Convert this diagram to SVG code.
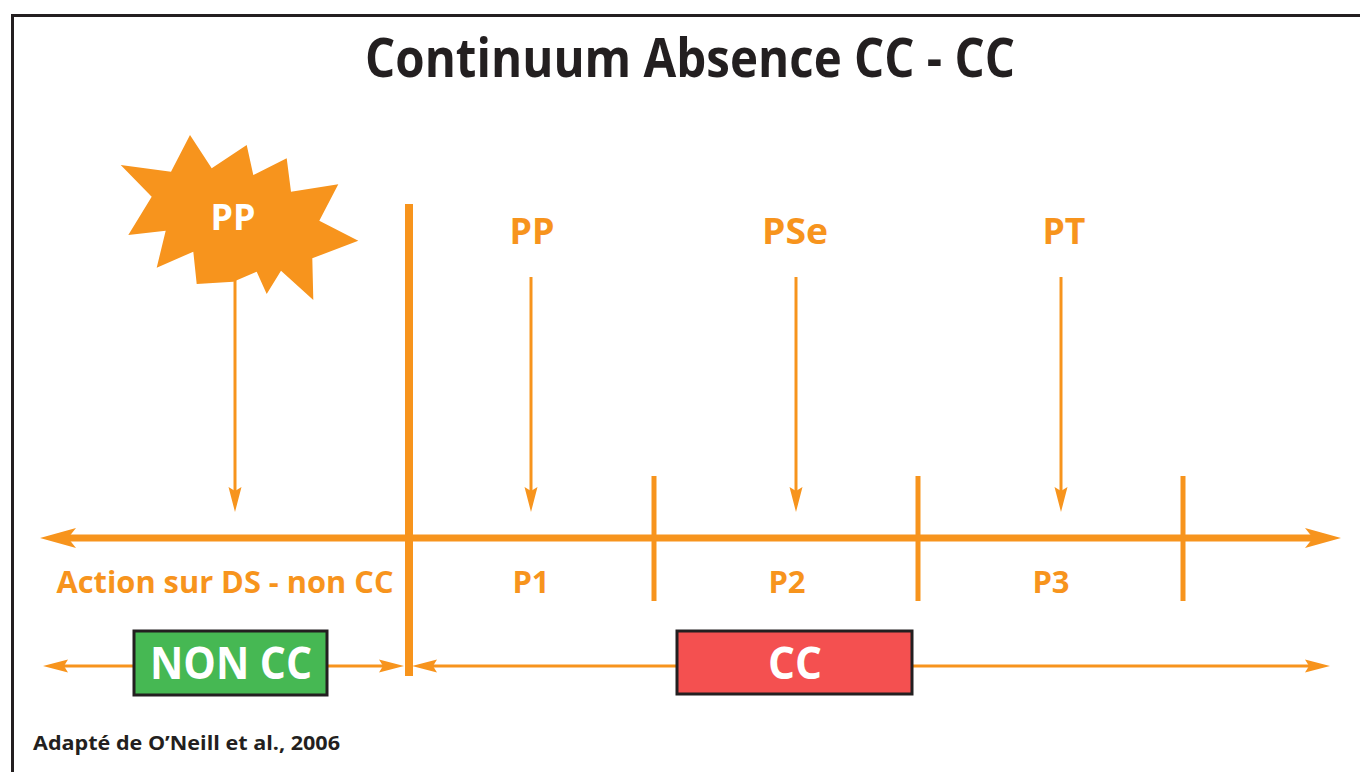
<svg xmlns="http://www.w3.org/2000/svg" width="1360" height="772" viewBox="0 0 1360 772">
<defs>
<style>
.or{fill:#f7941d;font-family:"Open Sans","Noto Sans","DejaVu Sans",sans-serif;font-weight:700;text-anchor:middle}
.wt{fill:#ffffff;font-family:"Open Sans","Noto Sans","DejaVu Sans",sans-serif;font-weight:700;text-anchor:middle}
.dk{fill:#231f20;font-family:"Open Sans","Noto Sans","DejaVu Sans",sans-serif;font-weight:700}
.ax{stroke:#f7941d;fill:none}
</style>
<marker id="bigHead" markerUnits="userSpaceOnUse" viewBox="0 -11 38 22" markerWidth="38" markerHeight="22" refX="8" refY="0" orient="auto-start-reverse">
<path d="M0,-10 L36,0 L0,10 L8,0 Z" fill="#f7941d"/>
</marker>
<marker id="smallHead" markerUnits="userSpaceOnUse" viewBox="0 -7 27 14" markerWidth="27" markerHeight="14" refX="4" refY="0" orient="auto-start-reverse">
<path d="M0,-6.5 L25,0 L0,6.5 L4,0 Z" fill="#f7941d"/>
</marker>
</defs>
<rect x="0" y="0" width="1360" height="772" fill="#ffffff"/>
<rect x="12.5" y="15.5" width="1380" height="800" fill="none" stroke="#231f20" stroke-width="3"/>
<text x="690" y="77" class="dk" font-size="54" text-anchor="middle" textLength="650" lengthAdjust="spacingAndGlyphs">Continuum Absence CC - CC</text>

<g id="burst">
<polygon fill="#f7941d" points="120.7,165 171,171.7 190,135 211.7,168.3 246.7,145 253.3,175 286.7,158.3 291,191.7 338.3,184.3 319.3,220.7 358.3,240.7 312.3,258.3 313.3,300 281,270.7 266.7,294 256.7,271.7 233.3,281.7 196.7,284 193.3,251.7 156.7,267.7 165.7,230.7 128.3,235 151.7,196.7"/>
<text x="233" y="230" class="wt" font-size="36" textLength="45" lengthAdjust="spacingAndGlyphs">PP</text>
</g>

<g id="labels">
<text x="532" y="244" class="or" font-size="36" textLength="45" lengthAdjust="spacingAndGlyphs">PP</text>
<text x="795" y="244" class="or" font-size="36" textLength="66" lengthAdjust="spacingAndGlyphs">PSe</text>
<text x="1064" y="244" class="or" font-size="36" textLength="43" lengthAdjust="spacingAndGlyphs">PT</text>
<text x="225" y="593" class="or" font-size="31" textLength="337" lengthAdjust="spacingAndGlyphs">Action sur DS - non CC</text>
<text x="531" y="593" class="or" font-size="31">P1</text>
<text x="787" y="593" class="or" font-size="31">P2</text>
<text x="1051" y="593" class="or" font-size="31">P3</text>
</g>

<g id="connectors">
<line class="ax" x1="68" y1="538" x2="1313" y2="538" stroke-width="7" marker-start="url(#bigHead)" marker-end="url(#bigHead)"/>
<line class="ax" x1="409" y1="204" x2="409" y2="676" stroke-width="8"/>
<line class="ax" x1="654" y1="476" x2="654" y2="601" stroke-width="5"/>
<line class="ax" x1="918" y1="476" x2="918" y2="601" stroke-width="5"/>
<line class="ax" x1="1183" y1="476" x2="1183" y2="601" stroke-width="5"/>
<line class="ax" x1="235" y1="280" x2="235" y2="491" stroke-width="3" marker-end="url(#smallHead)"/>
<line class="ax" x1="531" y1="277" x2="531" y2="491" stroke-width="3" marker-end="url(#smallHead)"/>
<line class="ax" x1="796" y1="277" x2="796" y2="491" stroke-width="3" marker-end="url(#smallHead)"/>
<line class="ax" x1="1061" y1="277" x2="1061" y2="491" stroke-width="3" marker-end="url(#smallHead)"/>
<line class="ax" x1="135" y1="666" x2="64" y2="666" stroke-width="3" marker-end="url(#smallHead)"/>
<line class="ax" x1="326" y1="666" x2="383" y2="666" stroke-width="3" marker-end="url(#smallHead)"/>
<line class="ax" x1="678" y1="666" x2="433" y2="666" stroke-width="3" marker-end="url(#smallHead)"/>
<line class="ax" x1="911" y1="666" x2="1309" y2="666" stroke-width="3" marker-end="url(#smallHead)"/>
</g>

<g id="nonCC">
<rect x="134" y="631" width="193" height="64" fill="#46b853" stroke="#231f20" stroke-width="3"/>
<text x="231" y="679" class="wt" font-size="44" textLength="162" lengthAdjust="spacingAndGlyphs">NON CC</text>
</g>
<g id="CC">
<rect x="677" y="631" width="235" height="63" fill="#f45050" stroke="#231f20" stroke-width="3"/>
<text x="795" y="679" class="wt" font-size="44" textLength="54" lengthAdjust="spacingAndGlyphs">CC</text>
</g>

<text x="33" y="750" class="dk" font-size="19" textLength="307" lengthAdjust="spacingAndGlyphs">Adapté de O’Neill et al., 2006</text>
</svg>
